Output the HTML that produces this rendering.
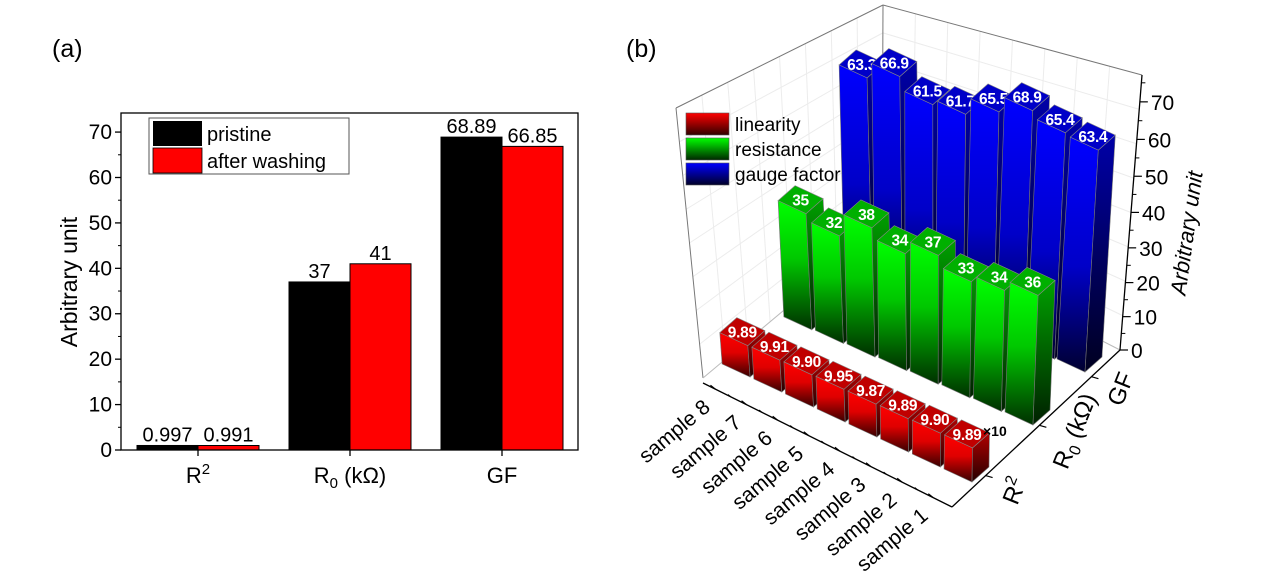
<!DOCTYPE html>
<html><head><meta charset="utf-8"><style>
html,body{margin:0;padding:0;background:#fff;}
svg{display:block;font-family:"Liberation Sans",Arial,sans-serif;}
</style></head><body>
<svg id="fig" width="1267" height="574" viewBox="0 0 1267 574" xmlns="http://www.w3.org/2000/svg">
<defs>
<linearGradient id="gRedF" x1="0" y1="0" x2="0" y2="1"><stop offset="0" stop-color="#ff0000"/><stop offset="0.45" stop-color="#e00000"/><stop offset="1" stop-color="#380000"/></linearGradient>
<linearGradient id="gRedS" x1="0" y1="0" x2="0" y2="1"><stop offset="0" stop-color="#b00000"/><stop offset="1" stop-color="#250000"/></linearGradient>
<linearGradient id="gGreenF" x1="0" y1="0" x2="0" y2="1"><stop offset="0" stop-color="#00ff00"/><stop offset="0.45" stop-color="#00c800"/><stop offset="1" stop-color="#003000"/></linearGradient>
<linearGradient id="gGreenS" x1="0" y1="0" x2="0" y2="1"><stop offset="0" stop-color="#00a000"/><stop offset="1" stop-color="#002000"/></linearGradient>
<linearGradient id="gBlueF" x1="0" y1="0" x2="0" y2="1"><stop offset="0" stop-color="#0000ff"/><stop offset="0.55" stop-color="#0000c8"/><stop offset="1" stop-color="#000030"/></linearGradient>
<linearGradient id="gBlueS" x1="0" y1="0" x2="0" y2="1"><stop offset="0" stop-color="#0000a8"/><stop offset="1" stop-color="#000020"/></linearGradient>
<linearGradient id="lgRed" x1="0" y1="0" x2="0" y2="1"><stop offset="0" stop-color="#ff0000"/><stop offset="1" stop-color="#300000"/></linearGradient>
<linearGradient id="lgGreen" x1="0" y1="0" x2="0" y2="1"><stop offset="0" stop-color="#00ff00"/><stop offset="1" stop-color="#002800"/></linearGradient>
<linearGradient id="lgBlue" x1="0" y1="0" x2="0" y2="1"><stop offset="0" stop-color="#0000ff"/><stop offset="1" stop-color="#000028"/></linearGradient>
</defs>
<text x="52" y="57" font-size="25">(a)</text>
<text x="626" y="57" font-size="25">(b)</text>
<g id="pa"></g>
<g id="pb"></g>
</svg>
<script>
// ---------- Panel (a) data ----------
const aCategories = ['R2', 'R0', 'GF'];
const aPristine = [0.997, 37, 68.89];
const aWashed = [0.991, 41, 66.85];
const aPristineLabels = ['0.997', '37', '68.89'];
const aWashedLabels = ['0.991', '41', '66.85'];
const aYTicks = [0, 10, 20, 30, 40, 50, 60, 70];

// ---------- Panel (b) data (sample 1 .. sample 8) ----------
const bSamples = ['sample 1','sample 2','sample 3','sample 4','sample 5','sample 6','sample 7','sample 8'];
const bLinearity = [9.89, 9.90, 9.89, 9.87, 9.95, 9.90, 9.91, 9.89];
const bResistance = [36, 34, 33, 37, 34, 38, 32, 35];
const bGauge = [63.4, 65.4, 68.9, 65.5, 61.7, 61.5, 66.9, 63.3];
const bZTicks = [0, 10, 20, 30, 40, 50, 60, 70];

const NS = 'http://www.w3.org/2000/svg';
function mk(tag, parent) { const e = document.createElementNS(NS, tag); parent.appendChild(e); return e; }
function setA(e, o) { for (const k in o) e.setAttribute(k, o[k]); return e; }

// ================= Panel A =================
(function(){
  const g = document.getElementById('pa');
  const L = 121, R = 578, T = 113, B = 450;
  const yMax = 74.2;
  const ys = v => B - v / yMax * (B - T);
  const xc = i => 198 + i * 152;
  const bw = 61;
  aCategories.forEach((c, i) => {
    const hb = mk('rect', g);
    setA(hb, {x: xc(i) - bw, y: ys(aPristine[i]), width: bw, height: B - ys(aPristine[i]), fill: '#000', stroke: '#000', 'stroke-width': 1});
    
    
    const rb = mk('rect', g);
    setA(rb, {x: xc(i), y: ys(aWashed[i]), width: bw, height: B - ys(aWashed[i]), fill: '#ff0000', stroke: '#000', 'stroke-width': 1});
    
    
    const t1 = mk('text', g);
    setA(t1, {x: xc(i) - bw / 2, y: ys(aPristine[i]) - 4, 'font-size': 20, 'text-anchor': 'middle'});
    t1.textContent = aPristineLabels[i];
    
    
    const t2 = mk('text', g);
    setA(t2, {x: xc(i) + bw / 2, y: ys(aWashed[i]) - 4, 'font-size': 20, 'text-anchor': 'middle'});
    t2.textContent = aWashedLabels[i];
    
    
    const tk = mk('line', g);
    setA(tk, {x1: xc(i), x2: xc(i), y1: B, y2: B + 6, stroke: '#000', 'stroke-width': 1.3});
    
    
  });
  const fr = mk('rect', g);
  setA(fr, {x: L, y: T, width: R - L, height: B - T, fill: 'none', stroke: '#000', 'stroke-width': 1.3});
  
  
  aYTicks.forEach(v => {
    const t = mk('line', g);
    setA(t, {x1: L, x2: L - 6, y1: ys(v), y2: ys(v), stroke: '#000', 'stroke-width': 1.3});
    
    
    if (v + 5 < yMax) {
      const m = mk('line', g);
      setA(m, {x1: L, x2: L - 3, y1: ys(v + 5), y2: ys(v + 5), stroke: '#000', 'stroke-width': 1});
      
      
    }
    const lb = mk('text', g);
    setA(lb, {x: L - 9, y: ys(v) + 7, 'font-size': 21, 'text-anchor': 'end'});
    lb.textContent = v;
    
    
  });
  const xl = [['R', '2', 'sup'], ['R', '0', 'sub'], ['GF', '', '']];
  xl.forEach((d, i) => {
    const t = mk('text', g);
    setA(t, {x: xc(i), y: 483, 'font-size': 22, 'text-anchor': 'middle'});
    
    
    const s1 = mk('tspan', t); s1.textContent = d[0];
    if (d[2] === 'sup') { const s = mk('tspan', t); setA(s, {'font-size': 15, dy: -9}); s.textContent = d[1]; }
    if (d[2] === 'sub') {
      const s = mk('tspan', t); setA(s, {'font-size': 15, dy: 5}); s.textContent = d[1];
      const s3 = mk('tspan', t); setA(s3, {dy: -5}); s3.textContent = ' (k\u03A9)';
    }
  });
  const yt = mk('text', g);
  setA(yt, {x: 0, y: 0, 'font-size': 23, 'text-anchor': 'middle', transform: 'translate(77,282) rotate(-90)'});
  yt.textContent = 'Arbitrary unit';
  
  
  const lg = mk('g', g);
  
  
  const lb = mk('rect', lg);
  setA(lb, {x: 149, y: 118, width: 200, height: 56, fill: '#fff', stroke: '#555', 'stroke-width': 1});
  
  
  const e1 = mk('rect', lg);
  setA(e1, {x: 153, y: 121, width: 49, height: 25, fill: '#000'});
  
  
  const e2 = mk('rect', lg);
  setA(e2, {x: 153, y: 148, width: 49, height: 25, fill: '#ff0000', stroke: '#000', 'stroke-width': 0.8});
  
  
  const l1 = mk('text', lg);
  setA(l1, {x: 207, y: 141, 'font-size': 20});
  l1.textContent = 'pristine';
  
  
  const l2 = mk('text', lg);
  setA(l2, {x: 207, y: 168, 'font-size': 20});
  l2.textContent = 'after washing';
  
  
})();

// ================= Panel B =================
(function(){
  const g = document.getElementById('pb');
  const rowBase = [[972, 482], [1033, 425], [1085, 372]];
  const rowSu = [[-31.7, -15], [-31.6, -13.6], [-30.4, -12.9]];
  const rowK = [3.45, 3.6, 3.5];
  const dK = 0.04;
  const wvec = [-28, -13];
  const dvec = [17, -15];
  const lean = x => (x - 935) * 0.0004;
  const base = (r, i) => [rowBase[r][0] + rowSu[r][0] * i, rowBase[r][1] + rowSu[r][1] * i];
  const kf = (r, i) => rowK[r] - dK * i;
  const zy = v => 350 - v * 3.3 - v * v * 0.0035;
  const zx = y => 1120 + (350 - y) * 0.08;

  function line(x1, y1, x2, y2, col, w, name) {
    const l = mk('line', g);
    setA(l, {x1: x1, y1: y1, x2: x2, y2: y2, stroke: col, 'stroke-width': w});
    
    
    return l;
  }
  const Lb = [703, 378], Lt = [676, 108], Bb = [882, 228], Bt = [883, 5], Rb = [1120, 350], Rt = [1142, 75];
  for (let f = 0.125; f < 1; f += 0.125) {
    const ax = Lb[0] + (Lt[0] - Lb[0]) * f, ay = Lb[1] + (Lt[1] - Lb[1]) * f;
    const bx = Bb[0] + (Bt[0] - Bb[0]) * f, by = Bb[1] + (Bt[1] - Bb[1]) * f;
    const cx = Rb[0] + (Rt[0] - Rb[0]) * f, cy = Rb[1] + (Rt[1] - Rb[1]) * f;
    line(ax, ay, bx, by, '#ececec', 1, 'wall-grid-line');
    line(bx, by, cx, cy, '#ececec', 1, 'wall-grid-line');
  }
  for (let f = 0.125; f < 1; f += 0.125) {
    const tx = Lt[0] + (Bt[0] - Lt[0]) * f, ty = Lt[1] + (Bt[1] - Lt[1]) * f;
    const bx = Lb[0] + (Bb[0] - Lb[0]) * f, by = Lb[1] + (Bb[1] - Lb[1]) * f;
    line(tx, ty, bx, by, '#ececec', 1, 'wall-grid-line');
    const tx2 = Bt[0] + (Rt[0] - Bt[0]) * f, ty2 = Bt[1] + (Rt[1] - Bt[1]) * f;
    const bx2 = Bb[0] + (Rb[0] - Bb[0]) * f, by2 = Bb[1] + (Rb[1] - Bb[1]) * f;
    line(tx2, ty2, bx2, by2, '#ececec', 1, 'wall-grid-line');
  }
  line(Lt[0], Lt[1], Bt[0], Bt[1], '#777', 1, 'frame-top-left');
  line(Bt[0], Bt[1], Rt[0], Rt[1], '#777', 1, 'frame-top-right');
  line(Bt[0], Bt[1], Bb[0], Bb[1], '#777', 1, 'frame-back-edge');
  line(Lt[0], Lt[1], Lb[0], Lb[1], '#777', 1, 'frame-left-edge');
  line(Lb[0], Lb[1], Bb[0], Bb[1], '#bbb', 1, 'floor-edge');
  line(Bb[0], Bb[1], Rb[0], Rb[1], '#bbb', 1, 'floor-edge');

  const series = [
    {vals: bGauge, fmt: v => v.toFixed(1), F: 'url(#gBlueF)', S: 'url(#gBlueS)', T: '#0000c8', name: 'gauge'},
    {vals: bResistance, fmt: v => String(Math.round(v)), F: 'url(#gGreenF)', S: 'url(#gGreenS)', T: '#00b000', name: 'resistance'},
    {vals: bLinearity, fmt: v => v.toFixed(2), F: 'url(#gRedF)', S: 'url(#gRedS)', T: '#c00000', name: 'linearity'}
  ];
  const rowOf = [2, 1, 0];
  const P = pts => pts.map(p => p[0].toFixed(1) + ',' + p[1].toFixed(1)).join(' ');
  series.forEach((s, si) => {
    const r = rowOf[si];
    for (let i = bSamples.length - 1; i >= 0; i--) {
      const B0 = base(r, i);
      const h = s.vals[i] * kf(r, i);
      const lx = h * lean(B0[0]);
      const up = p => [p[0] + lx, p[1] - h];
      const FR = B0, FL = [B0[0] + wvec[0], B0[1] + wvec[1]];
      const BR = [B0[0] + dvec[0], B0[1] + dvec[1]];
      const FLt = up(FL), FRt = up(FR), BRt = up(BR);
      const BLt = [FLt[0] + dvec[0], FLt[1] + dvec[1]];
      const bar = mk('g', g);
      
      
      const f = mk('polygon', bar);
      setA(f, {points: P([FL, FR, FRt, FLt]), fill: s.F, stroke: '#777', 'stroke-width': 0.6});
      const sd = mk('polygon', bar);
      setA(sd, {points: P([FR, BR, BRt, FRt]), fill: s.S, stroke: '#777', 'stroke-width': 0.6});
      const tp = mk('polygon', bar);
      setA(tp, {points: P([FLt, FRt, BRt, BLt]), fill: s.T, stroke: '#888', 'stroke-width': 0.6});
      const cx = (FLt[0] + FRt[0] + BRt[0] + BLt[0]) / 4, cy = (FLt[1] + FRt[1] + BRt[1] + BLt[1]) / 4;
      const t = mk('text', bar);
      setA(t, {x: cx, y: cy + 6, 'font-size': 15.5, 'font-weight': 'bold', fill: '#fff', 'text-anchor': 'middle', 'letter-spacing': '-0.3'});
      t.textContent = s.fmt(s.vals[i]);
    }
  });

  const A1 = [952, 507], A8 = [703, 383];
  line(A1[0], A1[1], A8[0], A8[1], '#000', 1.3, 'sample-axis');
  const su = [(A8[0] - A1[0]) / 8, (A8[1] - A1[1]) / 8];
  bSamples.forEach((nm, i) => {
    const u = i + 0.6;
    const tx = A1[0] + su[0] * u, ty = A1[1] + su[1] * u;
    line(tx, ty, tx - 5, ty - 4, '#000', 1.2, 'sample-tick');
    const mx = A1[0] + su[0] * (u + 0.5), my = A1[1] + su[1] * (u + 0.5);
    if (i < 7) line(mx, my, mx - 3, my - 2.5, '#000', 1, 'sample-minor-tick');
    const t = mk('text', g);
    setA(t, {x: 0, y: 0, 'font-size': 21, 'text-anchor': 'end', transform: 'translate(' + (tx - 4).toFixed(1) + ',' + (ty + 20).toFixed(1) + ') rotate(-40)'});
    t.textContent = nm;
    
    
  });
  line(A1[0], A1[1], Rb[0], Rb[1], '#000', 1.3, 'category-axis');
  const catPos = [0.2, 0.52, 0.83];
  catPos.forEach(f => {
    const x = A1[0] + (Rb[0] - A1[0]) * f, y = A1[1] + (Rb[1] - A1[1]) * f;
    line(x, y, x + 7, y + 2, '#000', 1.2, 'category-tick');
  });
  const c1 = mk('text', g);
  setA(c1, {x: 0, y: 0, 'font-size': 24, 'text-anchor': 'middle', transform: 'translate(1022,494) rotate(-68)'});
  
  
  c1.innerHTML = 'R<tspan font-size="16" dy="-10">2</tspan>';
  const c2 = mk('text', g);
  setA(c2, {x: 0, y: 0, 'font-size': 24, 'text-anchor': 'middle', transform: 'translate(1082,434) rotate(-68)'});
  
  
  c2.innerHTML = 'R<tspan font-size="16" dy="5">0</tspan><tspan dy="-5"> (k\u03A9)</tspan>';
  const c3 = mk('text', g);
  setA(c3, {x: 0, y: 0, 'font-size': 24, 'text-anchor': 'middle', transform: 'translate(1128,392) rotate(-68)'});
  
  
  c3.textContent = 'GF';
  line(Rb[0], Rb[1], Rt[0], Rt[1], '#000', 1.3, 'z-axis');
  bZTicks.forEach(v => {
    const y = zy(v), x = zx(y);
    line(x, y, x + 8, y, '#000', 1.2, 'z-tick');
    const y2 = zy(v + 5), x2 = zx(y2);
    line(x2, y2, x2 + 4, y2, '#000', 1, 'z-minor-tick');
    const t = mk('text', g);
    setA(t, {x: x + 11, y: y + 8, 'font-size': 21});
    t.textContent = v;
    
    
  });
  const zt = mk('text', g);
  setA(zt, {x: 0, y: 0, 'font-size': 22, 'font-style': 'italic', 'text-anchor': 'middle', transform: 'translate(1194,234) rotate(-82)'});
  zt.textContent = 'Arbitrary unit';
  
  
  const x10 = mk('text', g);
  setA(x10, {x: 983, y: 436, 'font-size': 14, 'font-weight': 'bold'});
  x10.textContent = '\u00D710';
  
  
  const lg = mk('g', g);
  
  
  const items = [['linearity', 'url(#lgRed)', 113], ['resistance', 'url(#lgGreen)', 138], ['gauge factor', 'url(#lgBlue)', 163]];
  items.forEach(it => {
    const r = mk('rect', lg);
    setA(r, {x: 686, y: it[2], width: 43, height: 22, fill: it[1], stroke: '#555', 'stroke-width': 0.6});
    
    
    const t = mk('text', lg);
    setA(t, {x: 735, y: it[2] + 18, 'font-size': 19});
    t.textContent = it[0];
    
    
  });
})();
</script>
</body></html>
